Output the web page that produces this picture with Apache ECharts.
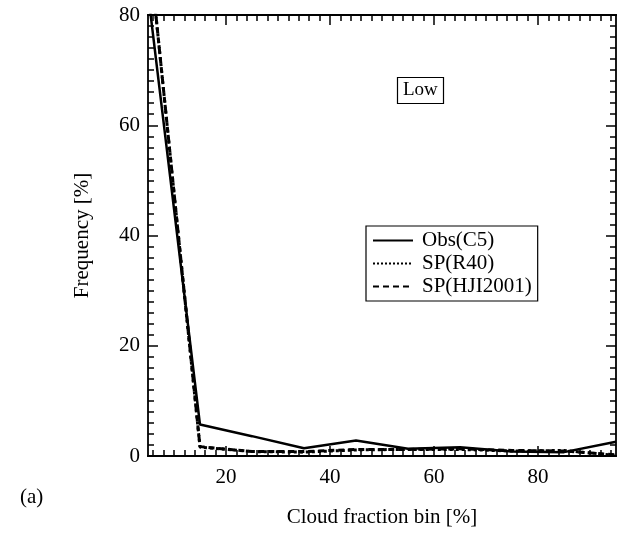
<!DOCTYPE html>
<html>
<head>
<meta charset="utf-8">
<script src="https://cdn.jsdelivr.net/npm/echarts@6/dist/echarts.min.js"></script>
<style>
  html, body {margin: 0; padding: 0; background: #fff;}
  #main {width: 621px; height: 533px;}
</style>
</head>
<body>
<div id="main"></div>
<script>
// bin centres of cloud fraction [%]
var bins = [5, 15, 25, 35, 45, 55, 65, 75, 85, 95];
var obsC5 = [84, 5.7, 3.6, 1.4, 2.8, 1.3, 1.6, 0.8, 0.7, 2.6];
var spR40 = [94, 1.6, 0.8, 0.7, 1.1, 1.2, 1.2, 0.9, 1.0, 0.1];
var spHJI = [94, 1.7, 0.8, 0.8, 1.2, 1.2, 1.3, 1.0, 0.9, 0.2];
var xLabels = [20, 40, 60, 80];

var minorX = [];
for (var v = 6; v < 95; v += 2) {
  if (xLabels.indexOf(v) < 0) minorX.push(v);
}

function pairs(ys) {
  return bins.map(function (x, i) { return [x, ys[i]]; });
}

var font = 'Liberation Serif';
var black = '#000';

function xAx(pos, major, showLabel) {
  return {
    type: 'value', position: pos, min: 5, max: 95,
    splitLine: {show: false},
    axisLine: {show: true, onZero: false, lineStyle: {color: black, width: 1.8}},
    axisTick: {show: true, inside: true, length: major ? 10 : 6,
      customValues: major ? xLabels : minorX,
      lineStyle: {color: black, width: 1.5}},
    axisLabel: {show: showLabel, customValues: xLabels, margin: 11,
      color: black, fontFamily: font, fontSize: 21}
  };
}

function yAx(pos, showLabel) {
  return {
    type: 'value', position: pos, min: 0, max: 80, interval: 20,
    splitLine: {show: false},
    axisLine: {show: true, lineStyle: {color: black, width: 1.8}},
    axisTick: {show: true, inside: true, length: 10, lineStyle: {color: black, width: 1.5}},
    minorTick: {show: true, splitNumber: 10, length: 6, lineStyle: {color: black, width: 1.5}},
    axisLabel: {show: showLabel, margin: 8, color: black, fontFamily: font, fontSize: 21}
  };
}

var xMain = xAx('bottom', true, true);
xMain.name = 'Cloud fraction bin [%]';
xMain.nameLocation = 'middle';
xMain.nameGap = 51;
xMain.nameTextStyle = {color: black, fontFamily: font, fontSize: 21};

var yMain = yAx('left', true);
yMain.name = 'Frequency [%]';
yMain.nameLocation = 'middle';
yMain.nameGap = 55;
yMain.nameTextStyle = {color: black, fontFamily: font, fontSize: 21};

var chart = echarts.init(document.getElementById('main'));
chart.setOption({
  animation: false,
  backgroundColor: '#fff',
  grid: {left: 148, right: 5, top: 15, bottom: 75, show: false},
  title: {
    text: 'Low', left: 397, top: 77,
    borderColor: black, borderWidth: 1.2, padding: [4, 6],
    textStyle: {color: black, fontFamily: font, fontSize: 19, fontWeight: 'normal'}
  },
  legend: {
    orient: 'vertical', left: 366, top: 226,
    borderColor: black, borderWidth: 1.2, padding: [4, 6],
    itemGap: 2, itemWidth: 40, itemHeight: 20,
    itemStyle: {opacity: 0},
    textStyle: {color: black, fontFamily: font, fontSize: 21, padding: [0, 0, 0, 4]},
    data: ['Obs(C5)', 'SP(R40)', 'SP(HJI2001)']
  },
  graphic: [{
    type: 'text', left: 20, top: 487,
    style: {text: '(a)', fill: black, font: '21px "Liberation Serif"'}
  }],
  xAxis: [xMain, xAx('bottom', false, false), xAx('top', true, false), xAx('top', false, false)],
  yAxis: [yMain, yAx('right', false)],
  series: [
    {name: 'Obs(C5)', type: 'line', symbol: 'none', data: pairs(obsC5),
      lineStyle: {color: black, width: 2.5, type: 'solid'}, itemStyle: {color: black}},
    {name: 'SP(R40)', type: 'line', symbol: 'none', data: pairs(spR40),
      lineStyle: {color: black, width: 3, type: 'dotted'}, itemStyle: {color: black}},
    {name: 'SP(HJI2001)', type: 'line', symbol: 'none', data: pairs(spHJI),
      lineStyle: {color: black, width: 3, type: [6, 4]}, itemStyle: {color: black}}
  ]
});
</script>
</body>
</html>
